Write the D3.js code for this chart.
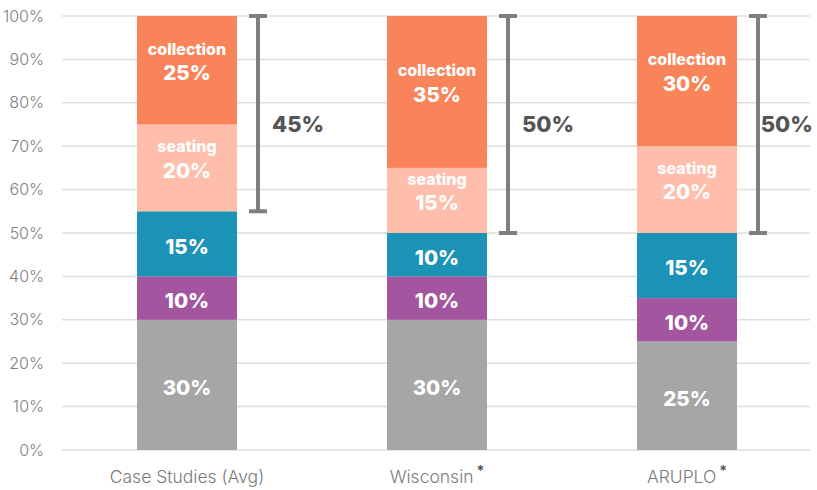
<!DOCTYPE html>
<html>
<head>
<meta charset="utf-8">
<script src="https://cdn.jsdelivr.net/npm/d3@7"></script>
<style>
  body { margin: 0; background: #fff; }
  svg { display: block; }
</style>
</head>
<body>
<svg id="chart" width="817" height="490"></svg>
<script>
// Categories along the x axis, and which ones carry an asterisk
const categories = ["Case Studies (Avg)", "Wisconsin", "ARUPLO"];
const starred = [false, true, true];

// Stack layers, bottom to top
const layers = ["other", "purple", "teal", "seating", "collection"];
const layerNames = ["", "", "", "seating", "collection"];
const layerColors = ["#a6a6a6", "#a3569f", "#1b93b7", "#ffbdac", "#fa845a"];

// Percent values per layer, one per category
const otherValues = [30, 30, 25];
const purpleValues = [10, 10, 10];
const tealValues = [15, 10, 15];
const seatingValues = [20, 15, 20];
const collectionValues = [25, 35, 30];

// Bracket totals (seating + collection) and the level their labels sit at
const bracketLabels = ["45%", "50%", "50%"];
const bracketLabelLevel = 75;

const yTicks = [0, 10, 20, 30, 40, 50, 60, 70, 80, 90, 100];

const rows = categories.map((c, i) => ({
  category: c,
  other: otherValues[i],
  purple: purpleValues[i],
  teal: tealValues[i],
  seating: seatingValues[i],
  collection: collectionValues[i]
}));

const FONT = "Inter, 'Open Sans', sans-serif";
const svg = d3.select("#chart");
const W = 817;
const plotLeft = 62, plotRight = 810, plotTop = 16, plotBottom = 450;

const x = d3.scaleBand().domain(categories).range([plotLeft, 812])
  .paddingInner(0.6).paddingOuter(0.3);
const y = d3.scaleLinear().domain([0, 100]).range([plotBottom, plotTop]);

// Gridlines
svg.append("g").selectAll("line").data(yTicks).join("line")
  .attr("x1", plotLeft).attr("x2", plotRight)
  .attr("y1", d => y(d)).attr("y2", d => y(d))
  .attr("stroke", "#dedede").attr("stroke-width", 1.5);

// Y axis labels
const yAxis = svg.append("g").attr("transform", `translate(${plotLeft},0)`)
  .call(d3.axisLeft(y).tickValues(yTicks).tickFormat(d => d + "%").tickSize(0).tickPadding(18));
yAxis.select(".domain").remove();
yAxis.selectAll("text")
  .attr("font-family", FONT)
  .attr("font-size", 16).attr("font-weight", 300).attr("fill", "#808080");

// Stacked bars
const stack = d3.stack().keys(layers)(rows);
const g = svg.append("g");
stack.forEach((layer, li) => {
  g.append("g").selectAll("rect").data(layer).join("rect")
    .attr("x", d => x(d.data.category))
    .attr("width", x.bandwidth())
    .attr("y", d => y(d[1]))
    .attr("height", d => y(d[0]) - y(d[1]))
    .attr("fill", layerColors[li]);

  const lg = g.append("g").selectAll("g").data(layer).join("g")
    .attr("transform", d => `translate(${x(d.data.category) + x.bandwidth() / 2},${(y(d[0]) + y(d[1])) / 2 + 2.5})`);
  lg.append("text")
    .attr("text-anchor", "middle").attr("dy", "0.36em")
    .attr("font-family", FONT)
    .attr("font-size", 20.5).attr("font-weight", 800).attr("fill", "#fff")
    .text(d => (d[1] - d[0]) + "%");
  if (layerNames[li]) {
    lg.append("text")
      .attr("text-anchor", "middle").attr("y", -24).attr("dy", "0.36em")
      .attr("font-family", FONT)
      .attr("font-size", 16).attr("font-weight", 800).attr("fill", "#fff")
      .text(layerNames[li]);
  }
});

// Brackets spanning seating + collection
const bracketTop = stack[4];
const bracketBottom = stack[3];
const bg = svg.append("g");
categories.forEach((c, i) => {
  const bx = x(c) + x.bandwidth() + 21;
  const y0 = y(bracketBottom[i][0]);
  const y1 = y(bracketTop[i][1]);
  bg.append("line").attr("x1", bx).attr("x2", bx).attr("y1", y1).attr("y2", y0)
    .attr("stroke", "#7f7f7f").attr("stroke-width", 4);
  [y0, y1].forEach(yy => bg.append("line")
    .attr("x1", bx - 9).attr("x2", bx + 9).attr("y1", yy).attr("y2", yy)
    .attr("stroke", "#7f7f7f").attr("stroke-width", 4));
  const t = bg.append("text")
    .attr("x", bx + 14).attr("y", y(bracketLabelLevel)).attr("dy", "0.36em")
    .attr("font-family", FONT)
    .attr("font-size", 22).attr("font-weight", 800).attr("fill", "#555")
    .text(bracketLabels[i]);
  // keep the label inside the canvas
  const w = t.node().getComputedTextLength();
  if (bx + 14 + w > W - 4) t.attr("x", W - 4 - w);
});

// X axis labels
const xl = svg.append("g").selectAll("text").data(categories).join("text")
  .attr("x", d => x(d) + x.bandwidth() / 2).attr("y", 483)
  .attr("text-anchor", "middle")
  .attr("font-family", FONT)
  .attr("font-size", 17.5).attr("font-weight", 300).attr("fill", "#7a7a7a");
xl.append("tspan").text(d => d);
xl.filter((d, i) => starred[i]).append("tspan")
  .attr("dx", 3).attr("dy", -7).attr("font-size", 14).attr("font-weight", 700).attr("fill", "#555")
  .text("*");
</script>
</body>
</html>
